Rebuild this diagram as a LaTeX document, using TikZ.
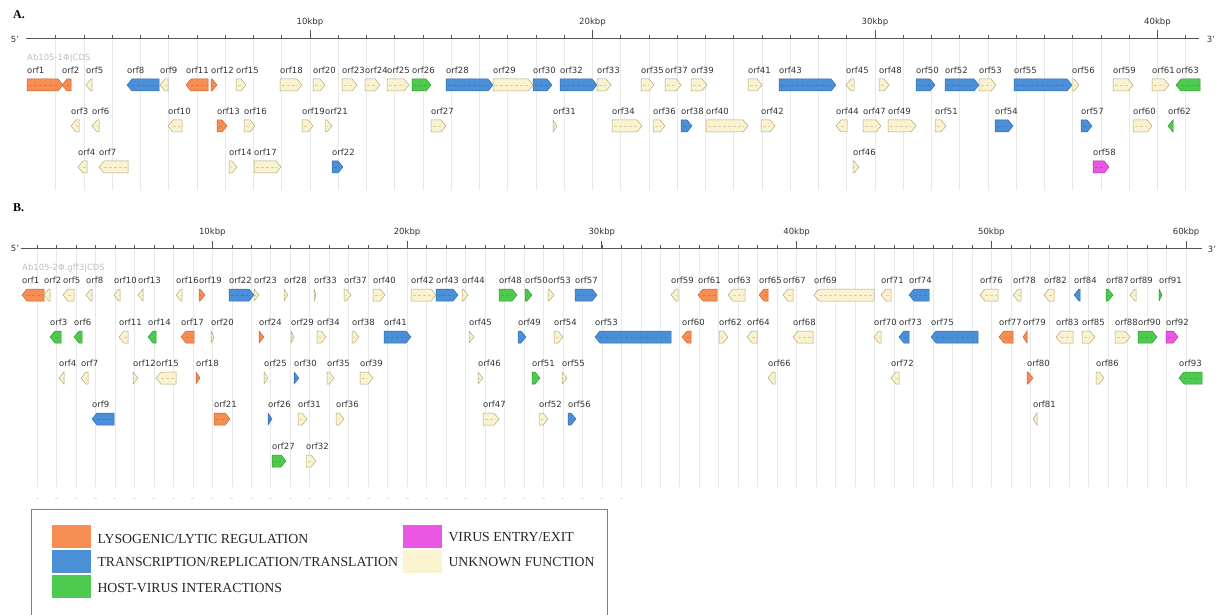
\documentclass[tikz,border=0pt]{standalone}
\usepackage{fontspec}
\setmainfont{DejaVu Sans}
\newfontfamily\legendfont{Liberation Serif}
\definecolor{lyF}{HTML}{F68D52}\definecolor{lyD}{HTML}{C9652D}
\definecolor{trF}{HTML}{4B8FD6}\definecolor{trD}{HTML}{2F6CAE}
\definecolor{hvF}{HTML}{4ECB4E}\definecolor{hvD}{HTML}{2E9A2E}
\definecolor{veF}{HTML}{E957E3}\definecolor{veD}{HTML}{B02FAA}
\definecolor{unF}{HTML}{FBF3CF}\definecolor{unD}{HTML}{B3A67C}
\definecolor{lblgray}{HTML}{333333}
\definecolor{gridgray}{HTML}{E8E8E8}
\definecolor{axgray}{HTML}{555555}
\tikzset{
  ly/.style={fill=lyF,draw=lyD},
  tr/.style={fill=trF,draw=trD},
  hv/.style={fill=hvF,draw=hvD},
  ve/.style={fill=veF,draw=veD},
  un/.style={fill=unF,draw=unD},
  genelbl/.style={anchor=west,inner sep=0pt,font=\fontsize{8.5}{9}\selectfont,text=lblgray},
  gridln/.style={draw=gridgray,line width=0.6pt},
  axisln/.style={draw=axgray,line width=0.9pt},
  kbplbl/.style={inner sep=0pt,font=\fontsize{8.5}{9}\selectfont,text=lblgray},
  endlbl/.style={inner sep=0pt,font=\fontsize{8.5}{9}\selectfont,text=lblgray},
  tracklbl/.style={anchor=west,inner sep=0pt,font=\fontsize{8.5}{9}\selectfont,text=black!25},
  panellbl/.style={anchor=west,inner sep=0pt,font=\legendfont\fontsize{12}{13}\selectfont\bfseries},
  legsw/.style={draw=none,minimum width=39.5pt,minimum height=22.7pt,inner sep=0pt,anchor=north west},
  legtxt/.style={anchor=west,inner sep=0pt,font=\legendfont\fontsize{13.8}{15}\selectfont,text=black!85},
  midln/.style={densely dashed,line width=0.3pt,draw opacity=0.5}
}
\newcommand{\genef}[6]{%
  \pgfmathsetmacro{\ghl}{min(5,#3-#2)}%
  \filldraw[#5,line width=0.5pt] (#2,#4-6) -- (#3-\ghl,#4-6) -- (#3,#4) -- (#3-\ghl,#4+6) -- (#2,#4+6) -- cycle;
  \draw[#5,midln] (#2+1.5,#4) -- (#3-\ghl,#4);
  \node[genelbl] (#1-#6) at (#2,#4-15) {#6};
}
\newcommand{\gener}[6]{%
  \pgfmathsetmacro{\ghl}{min(5,#3-#2)}%
  \filldraw[#5,line width=0.5pt] (#3,#4-6) -- (#2+\ghl,#4-6) -- (#2,#4) -- (#2+\ghl,#4+6) -- (#3,#4+6) -- cycle;
  \draw[#5,midln] (#2+\ghl,#4) -- (#3-1.5,#4);
  \node[genelbl] (#1-#6) at (#2,#4-15) {#6};
}
\begin{document}
\begin{tikzpicture}[x=1pt,y=-1pt]
\useasboundingbox (0,0) rectangle (1221,615);
\fill[white] (0,0) rectangle (1221,615);

% ================= Panel A =================
\node[panellbl] (labA) at (13,15) {A.};
\foreach \k in {1,...,41} \draw[gridln] ({27.5+\k*28.25},40) -- ({27.5+\k*28.25},190);
\node[endlbl] (A5) at (15,39) {5'};
\node[endlbl] (A3) at (1211,39) {3'};
\coordinate (Aax0) at (26,38);
\coordinate (Aax1) at (1199,38);
\draw[axisln] (Aax0) -- (Aax1);
\foreach \k in {1,...,41} \draw[axisln,line width=0.6pt] ({27.5+\k*28.25},35) -- ({27.5+\k*28.25},38);
\foreach \k in {10,20,30,40} {
  \draw[axisln] ({27.5+\k*28.25},30.5) -- ({27.5+\k*28.25},38);
  \node[kbplbl] (Ak\k) at ({27.5+\k*28.25},22) {\k kbp};
}
\node[tracklbl] (Atrack) at (27,58) {Ab105-1Φ|CDS};

% row 1
\genef{A}{27}{63}{85}{ly}{orf1}
\gener{A}{62}{71}{85}{ly}{orf2}
\gener{A}{86}{92}{85}{un}{orf5}
\gener{A}{127}{159}{85}{tr}{orf8}
\gener{A}{160}{168}{85}{un}{orf9}
\gener{A}{186}{208}{85}{ly}{orf11}
\genef{A}{211}{217}{85}{ly}{orf12}
\genef{A}{236}{246}{85}{un}{orf15}
\genef{A}{280}{302}{85}{un}{orf18}
\genef{A}{313}{325}{85}{un}{orf20}
\genef{A}{342}{357}{85}{un}{orf23}
\genef{A}{365}{380}{85}{un}{orf24}
\genef{A}{387}{409}{85}{un}{orf25}
\genef{A}{412}{431}{85}{hv}{orf26}
\genef{A}{446}{493}{85}{tr}{orf28}
\genef{A}{493}{533}{85}{un}{orf29}
\genef{A}{533}{552}{85}{tr}{orf30}
\genef{A}{560}{597}{85}{tr}{orf32}
\genef{A}{597}{611}{85}{un}{orf33}
\genef{A}{641}{654}{85}{un}{orf35}
\genef{A}{665}{681}{85}{un}{orf37}
\genef{A}{691}{707}{85}{un}{orf39}
\genef{A}{748}{762}{85}{un}{orf41}
\genef{A}{779}{836}{85}{tr}{orf43}
\gener{A}{846}{854}{85}{un}{orf45}
\genef{A}{879}{889}{85}{un}{orf48}
\genef{A}{916}{935}{85}{tr}{orf50}
\genef{A}{945}{979}{85}{tr}{orf52}
\genef{A}{979}{996}{85}{un}{orf53}
\genef{A}{1014}{1072}{85}{tr}{orf55}
\genef{A}{1072}{1079}{85}{un}{orf56}
\genef{A}{1113}{1133}{85}{un}{orf59}
\genef{A}{1152}{1169}{85}{un}{orf61}
\gener{A}{1176}{1200}{85}{hv}{orf63}
% row 2
\gener{A}{71}{79}{126}{un}{orf3}
\gener{A}{92}{99}{126}{un}{orf6}
\gener{A}{168}{182}{126}{un}{orf10}
\genef{A}{217}{227}{126}{ly}{orf13}
\genef{A}{244}{255}{126}{un}{orf16}
\genef{A}{302}{313}{126}{un}{orf19}
\genef{A}{325}{332}{126}{un}{orf21}
\genef{A}{431}{446}{126}{un}{orf27}
\genef{A}{553}{557}{126}{un}{orf31}
\genef{A}{612}{642}{126}{un}{orf34}
\genef{A}{653}{665}{126}{un}{orf36}
\genef{A}{681}{692}{126}{tr}{orf38}
\genef{A}{706}{748}{126}{un}{orf40}
\genef{A}{761}{775}{126}{un}{orf42}
\gener{A}{836}{847}{126}{un}{orf44}
\genef{A}{863}{881}{126}{un}{orf47}
\genef{A}{888}{916}{126}{un}{orf49}
\genef{A}{935}{946}{126}{un}{orf51}
\genef{A}{995}{1013}{126}{tr}{orf54}
\genef{A}{1081}{1092}{126}{tr}{orf57}
\genef{A}{1133}{1152}{126}{un}{orf60}
\gener{A}{1168}{1173}{126}{hv}{orf62}
% row 3
\gener{A}{78}{87}{167}{un}{orf4}
\gener{A}{99}{128}{167}{un}{orf7}
\genef{A}{229}{237}{167}{un}{orf14}
\genef{A}{254}{281}{167}{un}{orf17}
\genef{A}{332}{343}{167}{tr}{orf22}
\genef{A}{853}{859}{167}{un}{orf46}
\genef{A}{1093}{1109}{167}{ve}{orf58}

% ================= Panel B =================
\node[panellbl] (labB) at (13,208) {B.};
\foreach \k in {1,...,60} \draw[gridln] ({17.6+\k*19.475},250) -- ({17.6+\k*19.475},487);
\foreach \k in {1,...,31} \draw[draw=black!12,line width=0.6pt] ({17.6+\k*19.475-1.5},498.5) -- ({17.6+\k*19.475+1.5},498.5);
\node[endlbl] (B5) at (15,248) {5'};
\node[endlbl] (B3) at (1212,249) {3'};
\coordinate (Bax0) at (21,248);
\coordinate (Bax1) at (1202,248);
\draw[axisln] (Bax0) -- (Bax1);
\foreach \k in {1,...,60} \draw[axisln,line width=0.6pt] ({17.6+\k*19.475},245) -- ({17.6+\k*19.475},248);
\foreach \k in {10,20,30,40,50,60} {
  \draw[axisln] ({17.6+\k*19.475},241) -- ({17.6+\k*19.475},248);
  \node[kbplbl] (Bk\k) at ({17.6+\k*19.475},232) {\k kbp};
}
\node[tracklbl] (Btrack) at (22,268) {Ab105-2Φ.gff3|CDS};

% row 1
\gener{B}{22}{44}{295}{ly}{orf1}
\gener{B}{44}{50}{295}{un}{orf2}
\gener{B}{63}{74}{295}{un}{orf5}
\gener{B}{86}{92}{295}{un}{orf8}
\gener{B}{114}{120}{295}{un}{orf10}
\gener{B}{138}{143}{295}{un}{orf13}
\gener{B}{176}{182}{295}{un}{orf16}
\genef{B}{199}{205}{295}{ly}{orf19}
\genef{B}{229}{254}{295}{tr}{orf22}
\genef{B}{254}{259}{295}{un}{orf23}
\genef{B}{284}{288}{295}{un}{orf28}
\genef{B}{314}{316}{295}{un}{orf33}
\genef{B}{344}{351}{295}{un}{orf37}
\genef{B}{373}{385}{295}{un}{orf40}
\genef{B}{411}{436}{295}{un}{orf42}
\genef{B}{436}{458}{295}{tr}{orf43}
\genef{B}{462}{468}{295}{un}{orf44}
\genef{B}{499}{517}{295}{hv}{orf48}
\genef{B}{525}{532}{295}{hv}{orf50}
\genef{B}{548}{554}{295}{un}{orf53}
\genef{B}{575}{597}{295}{tr}{orf57}
\gener{B}{671}{678}{295}{un}{orf59}
\gener{B}{698}{717}{295}{ly}{orf61}
\gener{B}{728}{745}{295}{un}{orf63}
\gener{B}{759}{768}{295}{ly}{orf65}
\gener{B}{783}{793}{295}{un}{orf67}
\gener{B}{814}{874}{295}{un}{orf69}
\gener{B}{881}{891}{295}{un}{orf71}
\gener{B}{909}{929}{295}{tr}{orf74}
\gener{B}{980}{998}{295}{un}{orf76}
\gener{B}{1013}{1021}{295}{un}{orf78}
\gener{B}{1044}{1054}{295}{un}{orf82}
\gener{B}{1074}{1080}{295}{tr}{orf84}
\genef{B}{1106}{1113}{295}{hv}{orf87}
\gener{B}{1130}{1136}{295}{un}{orf89}
\genef{B}{1159}{1162}{295}{hv}{orf91}
% row 2
\gener{B}{50}{61}{337}{hv}{orf3}
\gener{B}{74}{82}{337}{hv}{orf6}
\gener{B}{119}{128}{337}{un}{orf11}
\gener{B}{148}{156}{337}{hv}{orf14}
\gener{B}{181}{194}{337}{ly}{orf17}
\genef{B}{211}{214}{337}{un}{orf20}
\genef{B}{259}{264}{337}{ly}{orf24}
\genef{B}{291}{294}{337}{un}{orf29}
\genef{B}{317}{326}{337}{un}{orf34}
\genef{B}{352}{359}{337}{un}{orf38}
\genef{B}{384}{411}{337}{tr}{orf41}
\genef{B}{469}{474}{337}{un}{orf45}
\genef{B}{518}{526}{337}{tr}{orf49}
\genef{B}{554}{563}{337}{un}{orf54}
\gener{B}{595}{671}{337}{tr}{orf53}
\gener{B}{682}{691}{337}{ly}{orf60}
\genef{B}{719}{728}{337}{un}{orf62}
\gener{B}{747}{757}{337}{un}{orf64}
\gener{B}{793}{813}{337}{un}{orf68}
\gener{B}{874}{881}{337}{un}{orf70}
\gener{B}{899}{909}{337}{tr}{orf73}
\gener{B}{931}{978}{337}{tr}{orf75}
\gener{B}{999}{1013}{337}{ly}{orf77}
\gener{B}{1023}{1027}{337}{ly}{orf79}
\gener{B}{1056}{1073}{337}{un}{orf83}
\genef{B}{1082}{1095}{337}{un}{orf85}
\genef{B}{1115}{1130}{337}{un}{orf88}
\genef{B}{1138}{1157}{337}{hv}{orf90}
\genef{B}{1166}{1178}{337}{ve}{orf92}
% row 3
\gener{B}{59}{64}{378}{un}{orf4}
\gener{B}{81}{88}{378}{un}{orf7}
\genef{B}{133}{138}{378}{un}{orf12}
\gener{B}{156}{176}{378}{un}{orf15}
\genef{B}{196}{200}{378}{ly}{orf18}
\genef{B}{264}{268}{378}{un}{orf25}
\genef{B}{294}{299}{378}{tr}{orf30}
\genef{B}{327}{334}{378}{un}{orf35}
\genef{B}{360}{373}{378}{un}{orf39}
\genef{B}{478}{483}{378}{un}{orf46}
\genef{B}{532}{540}{378}{hv}{orf51}
\genef{B}{562}{567}{378}{un}{orf55}
\gener{B}{768}{775}{378}{un}{orf66}
\gener{B}{891}{899}{378}{un}{orf72}
\genef{B}{1027}{1033}{378}{ly}{orf80}
\genef{B}{1096}{1104}{378}{un}{orf86}
\gener{B}{1179}{1202}{378}{hv}{orf93}
% row 4
\gener{B}{92}{114}{419}{tr}{orf9}
\genef{B}{214}{230}{419}{ly}{orf21}
\genef{B}{268}{272}{419}{tr}{orf26}
\genef{B}{298}{307}{419}{un}{orf31}
\genef{B}{336}{344}{419}{un}{orf36}
\genef{B}{483}{499}{419}{un}{orf47}
\genef{B}{539}{548}{419}{un}{orf52}
\genef{B}{568}{576}{419}{tr}{orf56}
\gener{B}{1033}{1037}{419}{un}{orf81}
% row 5
\genef{B}{272}{286}{461}{hv}{orf27}
\genef{B}{306}{316}{461}{un}{orf32}

% ================= Legend =================
\node[draw=black!50,line width=0.9pt,fill=none,anchor=north west,minimum width=576pt,minimum height=120pt,inner sep=0pt] (legend) at (30.5,509) {};
\node[legsw,fill=lyF] (swly) at (51.7,525) {};
\node[legsw,fill=trF] (swtr) at (51.7,550) {};
\node[legsw,fill=hvF] (swhv) at (51.7,575) {};
\node[legsw,fill=veF] (swve) at (402.7,525) {};
\node[legsw,fill=unF] (swun) at (402.7,550) {};
\node[legtxt] (tly) at (97.3,539) {LYSOGENIC/LYTIC REGULATION};
\node[legtxt] (ttr) at (97.3,561.7) {TRANSCRIPTION/REPLICATION/TRANSLATION};
\node[legtxt] (thv) at (97.3,587.7) {HOST-VIRUS INTERACTIONS};
\node[legtxt] (tve) at (448.3,536.7) {VIRUS ENTRY/EXIT};
\node[legtxt] (tun) at (448.3,561.7) {UNKNOWN FUNCTION};
\end{tikzpicture}
\end{document}
